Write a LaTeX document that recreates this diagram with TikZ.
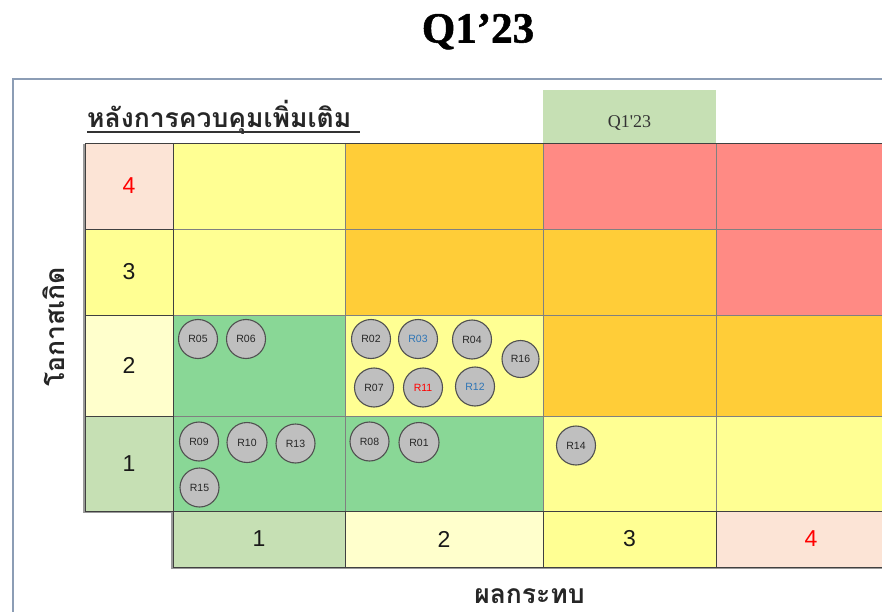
\documentclass[tikz,border=0pt]{standalone}
\usepackage{fontspec}
\setmainfont{Liberation Sans}
\newfontfamily\thaifont[Script=Thai]{Loma}
\newfontfamily\ttlserif{Liberation Serif}
\newfontfamily\ttlserifbold[FakeBold=1.2]{Liberation Serif Bold}
\definecolor{cYel}{HTML}{FFFF93}
\definecolor{cOra}{HTML}{FFCD38}
\definecolor{cRed}{HTML}{FF8A84}
\definecolor{cGrn}{HTML}{89D796}
\definecolor{hGrn}{HTML}{C6E0B4}
\definecolor{hLYel}{HTML}{FFFFCC}
\definecolor{hPink}{HTML}{FCE4D6}
\definecolor{gridln}{HTML}{808080}
\definecolor{hdrln}{HTML}{404040}
\definecolor{shadowln}{HTML}{9A9A9A}
\definecolor{frameln}{HTML}{8C9DB5}
\definecolor{circfill}{HTML}{BFBFBF}
\definecolor{circln}{HTML}{505050}
\definecolor{txtBlue}{HTML}{2E75B6}
\begin{document}
\begin{tikzpicture}[x=1pt,y=-1pt,
  cellbox/.style={draw=gridln, line width=0.6pt, anchor=north west, inner sep=0pt, outer sep=0pt},
  hdrbox/.style={draw=hdrln, line width=0.8pt, anchor=north west, inner sep=0pt, outer sep=0pt,
     font=\fontsize{23}{23}\selectfont, text=black!90},
  risk/.style={circle, fill=circfill, draw=circln, line width=1.1pt, minimum size=39pt, inner sep=0pt,
     font=\fontsize{10.5}{10.5}\selectfont, text=black!85},
  thaibold/.style={font=\thaifont\bfseries\fontsize{26.5}{26.5}\selectfont, text=black!85}
]
\useasboundingbox (0,0) rectangle (882,612);
\clip (0,0) rectangle (882,612);
\fill[white] (0,0) rectangle (882,612);
% frame
\draw[frameln, line width=1.5pt] (13,700) -- (13,79) -- (900,79);
% title
\node[font=\ttlserifbold\fontsize{43}{43}\selectfont, anchor=base, inner sep=0pt] (title) at (478,42.5) {Q1’23};
% green Q1'23 box
\node[fill=hGrn, anchor=north west, minimum width=173pt, minimum height=53pt, inner sep=0pt] (qbox) at (543,90) {};
\node[font=\ttlserif\fontsize{18}{18}\selectfont, anchor=base, inner sep=0pt, text=black!80] (qlbl) at (629.5,128) {Q1'23};
% top label
\node[thaibold, anchor=base west, inner sep=0pt] (toplbl) at (87,128) {หลังการควบคุมเพิ่มเติม};
\draw[black!80, line width=1.4pt] (87,132) -- (360,132);
% shadows of header blocks
\draw[shadowln, line width=1.6pt] (84,144) -- (84,512.5) -- (173,512.5);
\draw[shadowln, line width=1.6pt] (172,512) -- (172,568.5) -- (900,568.5);
% grid cells: columns 173,345,543,716,(900); rows 143,229,315,416,511
\node[cellbox, fill=cYel, minimum width=172pt, minimum height=86pt] (c41) at (173,143) {};
\node[cellbox, fill=cOra, minimum width=198pt, minimum height=86pt] (c42) at (345,143) {};
\node[cellbox, fill=cRed, minimum width=173pt, minimum height=86pt] (c43) at (543,143) {};
\node[cellbox, fill=cRed, minimum width=190pt, minimum height=86pt] (c44) at (716,143) {};
\node[cellbox, fill=cYel, minimum width=172pt, minimum height=86pt] (c31) at (173,229) {};
\node[cellbox, fill=cOra, minimum width=198pt, minimum height=86pt] (c32) at (345,229) {};
\node[cellbox, fill=cOra, minimum width=173pt, minimum height=86pt] (c33) at (543,229) {};
\node[cellbox, fill=cRed, minimum width=190pt, minimum height=86pt] (c34) at (716,229) {};
\node[cellbox, fill=cGrn, minimum width=172pt, minimum height=101pt] (c21) at (173,315) {};
\node[cellbox, fill=cYel, minimum width=198pt, minimum height=101pt] (c22) at (345,315) {};
\node[cellbox, fill=cOra, minimum width=173pt, minimum height=101pt] (c23) at (543,315) {};
\node[cellbox, fill=cOra, minimum width=190pt, minimum height=101pt] (c24) at (716,315) {};
\node[cellbox, fill=cGrn, minimum width=172pt, minimum height=95pt] (c11) at (173,416) {};
\node[cellbox, fill=cGrn, minimum width=198pt, minimum height=95pt] (c12) at (345,416) {};
\node[cellbox, fill=cYel, minimum width=173pt, minimum height=95pt] (c13) at (543,416) {};
\node[cellbox, fill=cYel, minimum width=190pt, minimum height=95pt] (c14) at (716,416) {};
% row headers
\node[hdrbox, fill=hPink, minimum width=88pt, minimum height=86pt, text=red] (rh4) at (85,143) {4};
\node[hdrbox, fill=cYel, minimum width=88pt, minimum height=86pt] (rh3) at (85,229) {3};
\node[hdrbox, fill=hLYel, minimum width=88pt, minimum height=101pt] (rh2) at (85,315) {2};
\node[hdrbox, fill=hGrn, minimum width=88pt, minimum height=95pt] (rh1) at (85,416) {1};
% column headers
\node[hdrbox, fill=hGrn, minimum width=172pt, minimum height=56pt] (ch1) at (173,511) {1};
\node[hdrbox, fill=hLYel, minimum width=198pt, minimum height=56pt] (ch2) at (345,511) {2};
\node[hdrbox, fill=cYel, minimum width=173pt, minimum height=56pt] (ch3) at (543,511) {3};
\node[hdrbox, fill=hPink, minimum width=190pt, minimum height=56pt, text=red] (ch4) at (716,511) {4};
% outer line of matrix top
\draw[hdrln, line width=0.8pt] (173,143) -- (900,143);
% axis labels
\node[thaibold, rotate=90, inner sep=0pt] (ylbl) at (54,327) {โอกาสเกิด};
\node[thaibold, anchor=base, inner sep=0pt] (xlbl) at (529.5,603) {ผลกระทบ};
% risks
\node[risk] (r05) at (198,339) {R05};
\node[risk] (r06) at (246,339) {R06};
\node[risk] (r02) at (371,339) {R02};
\node[risk, text=txtBlue] (r03) at (418,339) {R03};
\node[risk] (r04) at (472,339.5) {R04};
\node[risk, minimum size=37pt] (r16) at (520.5,359) {R16};
\node[risk] (r07) at (374,387.5) {R07};
\node[risk, text=red] (r11) at (423,387.5) {R11};
\node[risk, text=txtBlue] (r12) at (475,386.5) {R12};
\node[risk] (r09) at (199,441.5) {R09};
\node[risk, minimum size=40pt] (r10) at (247,442.5) {R10};
\node[risk] (r13) at (295.5,443.5) {R13};
\node[risk] (r15) at (199.5,487.5) {R15};
\node[risk] (r08) at (369.5,441.5) {R08};
\node[risk, minimum size=40pt] (r01) at (419,442.5) {R01};
\node[risk] (r14) at (576,445.5) {R14};
\end{tikzpicture}
\end{document}
